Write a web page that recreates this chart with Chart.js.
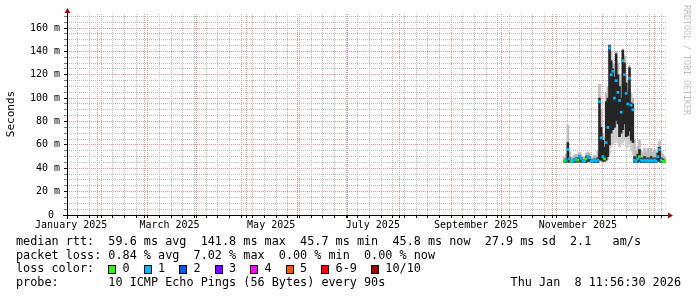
<!DOCTYPE html>
<html>
<head>
<meta charset="utf-8">
<script src="https://cdn.jsdelivr.net/npm/chart.js@4.4.1/dist/chart.umd.min.js"></script>
<style>
  html, body { margin: 0; padding: 0; background: #fff; }
</style>
</head>
<body>
<canvas id="smokeChart" width="697" height="297"></canvas>
<script>
// graph window: 360 days ending at the probe timestamp
const graphEnd = "2026-01-08T11:56:30Z";
const graphDays = 360;

// x axis labels (RRDtool centres them half a month after the month start)
const axisMonths = ["January 2025", "March 2025", "May 2025", "July 2025", "September 2025", "November 2025"];
const axisMonthDates = ["2025-01-16", "2025-03-16", "2025-05-16", "2025-07-16", "2025-09-16", "2025-11-16"];

// y axis
const yMax = 172;
const yStep = 5;
const yLabelStep = 20;

// samples
const sampleDays = [
  "2025-11-08", "2025-11-09", "2025-11-10", "2025-11-11", "2025-11-12", "2025-11-13", "2025-11-14", "2025-11-15",
  "2025-11-16", "2025-11-17", "2025-11-18", "2025-11-19", "2025-11-20", "2025-11-21", "2025-11-22", "2025-11-23",
  "2025-11-24", "2025-11-25", "2025-11-26", "2025-11-27", "2025-11-28", "2025-11-29", "2025-11-30", "2025-12-01",
  "2025-12-02", "2025-12-03", "2025-12-04", "2025-12-05", "2025-12-06", "2025-12-07", "2025-12-08", "2025-12-09",
  "2025-12-10", "2025-12-11", "2025-12-12", "2025-12-13", "2025-12-14", "2025-12-15", "2025-12-16", "2025-12-17",
  "2025-12-18", "2025-12-19", "2025-12-20", "2025-12-21", "2025-12-22", "2025-12-23", "2025-12-24", "2025-12-25",
  "2025-12-26", "2025-12-27", "2025-12-28", "2025-12-29", "2025-12-30", "2025-12-31", "2026-01-01", "2026-01-02",
  "2026-01-03", "2026-01-04", "2026-01-05", "2026-01-06", "2026-01-07"
];
// median rtt (ms)
const medianRtt = [
  46, 47, 56, 48, 46, 46, 47, 48, 47, 50, 48, 46, 46, 48, 50, 49,
  46, 46, 47, 46, 47, 97, 66, 50, 48, 62, 75, 143, 120, 123, 100, 115,
  105, 98, 88, 132, 120, 104, 95, 117, 94, 90, 47, 46, 48, 50, 47, 46,
  47, 46, 47, 46, 47, 46, 47, 46, 50, 56, 47, 46, 46
];
// smoke: lowest ping, dense band bottom, dense band top, highest ping (ms)
const smokeMin = [
  45, 45, 45, 45, 45, 45, 45, 45, 45, 45, 45, 45, 45, 45, 45, 45,
  45, 45, 45, 45, 45, 46, 46, 45, 45, 46, 47, 52, 58, 60, 62, 64,
  62, 58, 60, 62, 64, 58, 58, 60, 55, 52, 45, 45, 45, 45, 45, 45,
  45, 45, 45, 45, 45, 45, 45, 45, 45, 45, 45, 45, 45
];
const smokeLow = [
  45, 45, 46, 45, 45, 45, 45, 46, 45, 46, 45, 45, 45, 45, 46, 46,
  45, 45, 45, 45, 45, 47, 47, 46, 46, 47, 50, 60, 70, 73, 75, 81,
  78, 67, 70, 73, 78, 67, 68, 72, 64, 62, 45, 45, 45, 46, 45, 45,
  45, 45, 45, 45, 45, 45, 45, 45, 46, 46, 45, 45, 45
];
const smokeHigh = [
  47, 48, 62, 49, 47, 47, 48, 49, 49, 51, 49, 47, 47, 50, 51, 50,
  47, 47, 48, 47, 49, 100, 75, 64, 58, 97, 100, 145, 132, 125, 118, 138,
  120, 110, 100, 141, 130, 113, 105, 126, 96, 95, 50, 48, 52, 56, 49, 48,
  50, 48, 49, 48, 50, 48, 49, 48, 53, 58, 49, 48, 47
];
const smokeMax = [
  50, 52, 77, 54, 50, 49, 51, 52, 52, 54, 52, 50, 49, 53, 54, 53,
  50, 49, 51, 50, 55, 112, 90, 70, 66, 104, 110, 146, 140, 130, 128, 140,
  130, 120, 112, 142, 136, 120, 115, 128, 104, 100, 64, 55, 58, 64, 55, 53,
  57, 54, 57, 55, 57, 54, 56, 54, 58, 63, 55, 52, 50
];
// lost pings out of 10 per sample
const lossCount = [
  0, 1, 1, 1, 0, 1, 1, 1, 0, 1, 1, 1, 1, 0, 1, 1,
  1, 1, 1, 1, 1, 1, 1, 1, 0, 1, 1, 1, 1, 1, 1, 1,
  1, 1, 1, 1, 1, 1, 1, 1, 1, 1, 1, 1, 1, 0, 1, 1,
  1, 1, 1, 1, 1, 1, 1, 1, 1, 1, 1, 0, 0
];

const lossColors = ["#26ff00", "#00b8ff", "#0059ff", "#7e00ff", "#ff00ff", "#ff5500", "#ff0000", "#a00000"];
const lossLabels = ["0", "1", "2", "3", "4", "5", "6-9", "10/10"];

const legendLines = [
  "median rtt:  59.6 ms avg  141.8 ms max  45.7 ms min  45.8 ms now  27.9 ms sd  2.1   am/s",
  "packet loss: 0.84 % avg  7.02 % max  0.00 % min  0.00 % now"
];
const probeLine = "probe:       10 ICMP Echo Pings (56 Bytes) every 90s";
const stampText = "Thu Jan  8 11:56:30 2026";
const watermark = "RRDTOOL / TOBI OETIKER";

const DAY = 86400000;
const tEnd = Date.parse(graphEnd);
const tStart = tEnd - graphDays * DAY;
const dayValue = s => Date.parse(s + "T00:00:00Z");

const MONO = "'DejaVu Sans Mono', monospace";
const GRID_MINOR = "#b9b9b9";
const GRID_MAJOR = "#e89494";
const ARROW = "#8e1010";

function rangeData(a, b) {
  return sampleDays.map((d, i) => ({ x: dayValue(d), y: [a[i], b[i]] }));
}

function timeTicks() {
  const ticks = [];
  for (let t = dayValue("2025-01-20"); t < tEnd; t += 7 * DAY) ticks.push({ value: t, kind: "week" });
  for (let m = 1; m <= 12; m++) ticks.push({ value: Date.UTC(2025, m, 1), kind: "month" });
  axisMonths.forEach((name, i) => ticks.push({ value: dayValue(axisMonthDates[i]), kind: "label", text: name }));
  return ticks.filter(t => t.value > tStart && t.value < tEnd).sort((a, b) => a.value - b.value);
}

// axes, arrows and the text block under the graph
const rrdDecor = {
  id: "rrdDecor",
  afterDraw(chart) {
    const ctx = chart.ctx;
    const a = chart.chartArea;
    const x0 = Math.round(a.left) + 0.5;
    const y0 = Math.round(a.bottom) + 0.5;
    ctx.save();
    ctx.strokeStyle = "#000";
    ctx.lineWidth = 1;
    ctx.beginPath();
    ctx.moveTo(a.left - 4, y0);
    ctx.lineTo(a.right + 2, y0);
    ctx.moveTo(x0, a.bottom + 4);
    ctx.lineTo(x0, a.top - 2);
    ctx.stroke();

    ctx.fillStyle = ARROW;
    ctx.beginPath();
    ctx.moveTo(x0, a.top - 6);
    ctx.lineTo(x0 - 3, a.top - 1);
    ctx.lineTo(x0 + 3, a.top - 1);
    ctx.closePath();
    ctx.fill();
    ctx.beginPath();
    ctx.moveTo(a.right + 6, y0);
    ctx.lineTo(a.right + 1, y0 - 3);
    ctx.lineTo(a.right + 1, y0 + 3);
    ctx.closePath();
    ctx.fill();

    // y title
    ctx.fillStyle = "#000";
    ctx.font = "11px " + MONO;
    ctx.textAlign = "center";
    ctx.textBaseline = "middle";
    ctx.save();
    ctx.translate(11, 114);
    ctx.rotate(-Math.PI / 2);
    ctx.fillText("Seconds", 0, 0);
    ctx.restore();

    // watermark
    ctx.save();
    ctx.fillStyle = "#bdbdbd";
    ctx.font = "8.3px " + MONO;
    ctx.textAlign = "left";
    ctx.translate(686.5, 5);
    ctx.rotate(Math.PI / 2);
    ctx.fillText(watermark, 0, 0);
    ctx.restore();

    // legend block
    ctx.font = "11.8px " + MONO;
    ctx.textAlign = "left";
    ctx.fillStyle = "#000";
    const cw = ctx.measureText("0").width;
    const left = 16;
    const rows = [241.5, 255.5, 269.4, 283.3];
    ctx.fillText(legendLines[0], left, rows[0]);
    ctx.fillText(legendLines[1], left, rows[1]);
    ctx.fillText("loss color:", left, rows[2]);
    let col = 13;
    lossLabels.forEach((lab, i) => {
      const bx = Math.round(left + col * cw);
      ctx.fillStyle = lossColors[i];
      ctx.fillRect(bx, 265, 8, 9);
      ctx.strokeStyle = "#000";
      ctx.strokeRect(bx + 0.5, 265.5, 7, 8);
      ctx.fillStyle = "#000";
      ctx.fillText(lab, left + (col + 2) * cw, rows[2]);
      col += 2 + lab.length + 2;
    });
    ctx.fillText(probeLine, left, rows[3]);
    ctx.textAlign = "right";
    ctx.fillText(stampText, 681, rows[3]);
    ctx.restore();
  }
};

const barBase = { grouped: false, barThickness: 2, borderWidth: 0, borderSkipped: false };

new Chart(document.getElementById("smokeChart").getContext("2d"), {
  type: "bar",
  data: {
    datasets: [
      { ...barBase, label: "median", data: rangeData(medianRtt.map(v => v - 0.9), medianRtt.map(v => v + 0.9)),
        backgroundColor: lossCount.map(n => lossColors[Math.min(n, 7)]), order: 0 },
      { ...barBase, label: "smoke core", data: rangeData(smokeLow, smokeHigh), backgroundColor: "#262626", order: 1 },
      { ...barBase, label: "smoke top", data: rangeData(smokeHigh, smokeMax), backgroundColor: "#bcbcbc", order: 2 },
      { ...barBase, label: "smoke bottom", data: rangeData(smokeMin, smokeLow), backgroundColor: "#cdcdcd", order: 3 }
    ]
  },
  options: {
    responsive: false,
    animation: false,
    events: [],
    layout: { padding: { left: 0, right: 30, top: 14, bottom: 62 } },
    plugins: { legend: { display: false }, tooltip: { enabled: false } },
    scales: {
      x: {
        type: "linear",
        min: tStart,
        max: tEnd,
        offset: false,
        afterBuildTicks: s => { s.ticks = timeTicks(); },
        afterFit: s => { s.height = 20; },
        border: { display: false, dash: [1, 1] },
        grid: {
          offset: false,
          tickLength: 3,
          color: c => c.tick && c.tick.kind === "month" ? GRID_MAJOR : c.tick && c.tick.kind === "week" ? GRID_MINOR : "rgba(0,0,0,0)",
          tickColor: c => c.tick && c.tick.kind === "label" ? "rgba(0,0,0,0)" : "#000",
          tickBorderDash: []
        },
        ticks: {
          autoSkip: false,
          maxRotation: 0,
          minRotation: 0,
          padding: 1,
          color: "#000",
          font: { family: MONO, size: 10 },
          callback: (v, i, t) => t[i].text || ""
        }
      },
      y: {
        min: 0,
        max: yMax,
        afterBuildTicks: s => {
          const t = [];
          for (let v = 0; v <= yMax; v += yStep) t.push({ value: v });
          s.ticks = t;
        },
        afterFit: s => { s.width = 67; },
        border: { display: false, dash: [1, 1] },
        grid: {
          tickLength: 3,
          color: c => c.tick && c.tick.value % yLabelStep === 0 ? GRID_MAJOR : GRID_MINOR,
          tickColor: c => c.tick && c.tick.value % yLabelStep === 0 ? "#000" : "#777",
          tickBorderDash: []
        },
        ticks: {
          autoSkip: false,
          padding: 4,
          color: "#000",
          font: { family: MONO, size: 10 },
          callback: v => v % yLabelStep !== 0 ? "" : (v === 0 ? "0 " : v + " m")
        }
      }
    }
  },
  plugins: [rrdDecor]
});
</script>
</body>
</html>
